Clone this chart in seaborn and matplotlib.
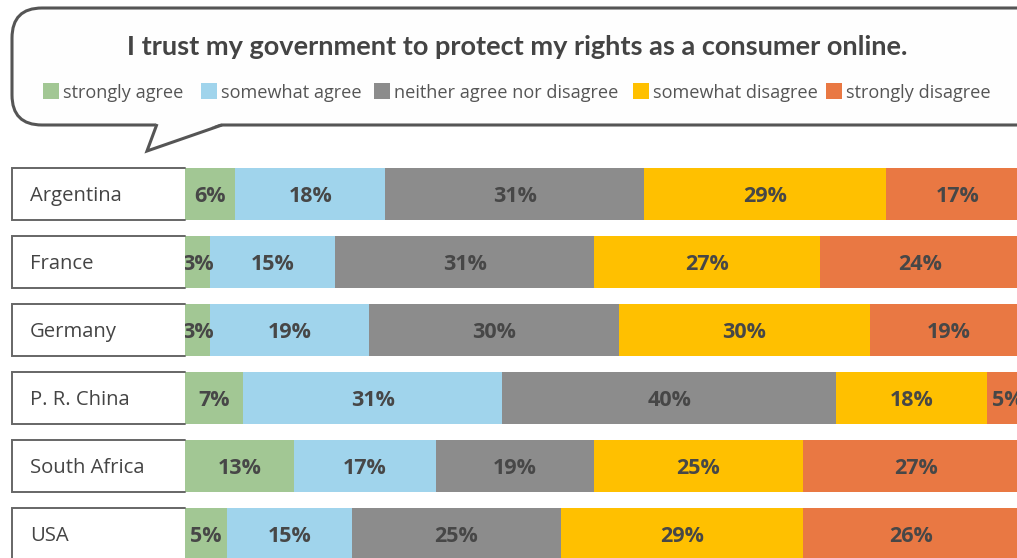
import matplotlib
matplotlib.use("Agg")
import matplotlib.pyplot as plt
import matplotlib.transforms as mtransforms
from matplotlib.patches import FancyBboxPatch, Polygon, Rectangle
import seaborn as sns
import pandas as pd
import numpy as np

countries = ["Argentina", "France", "Germany", "P. R. China", "South Africa", "USA"]
strongly_agree = [6, 3, 3, 7, 13, 5]
somewhat_agree = [18, 15, 19, 31, 17, 15]
neither = [31, 31, 30, 40, 19, 25]
somewhat_disagree = [29, 27, 30, 18, 25, 29]
strongly_disagree = [17, 24, 19, 5, 27, 26]

categories = ["strongly agree", "somewhat agree", "neither agree nor disagree",
              "somewhat disagree", "strongly disagree"]
colors = ["#A2C794", "#A0D4EC", "#8C8C8C", "#FFC000", "#E97843"]
title = "I trust my government to protect my rights as a consumer online."

sns.set_theme(style="white")
plt.rcParams['font.family'] = ['Open Sans', 'DejaVu Sans']

W, H = 1017, 558
fig = plt.figure(figsize=(W / 100, H / 100), dpi=100)
fig.patch.set_facecolor("white")

# overlay axes in pixel coords for the speech bubble and legend
ax0 = fig.add_axes([0, 0, 1, 1], zorder=0)
ax0.set_xlim(0, W)
ax0.set_ylim(H, 0)
ax0.axis("off")

edge = "#555555"
bubble = FancyBboxPatch((12 + 30, 8 + 30), 1005 - 60 + 30, 117 - 60,
                        boxstyle="round,pad=30", facecolor="#FEFEFE",
                        edgecolor=edge, linewidth=2.2, zorder=1)
ax0.add_patch(bubble)
ax0.add_patch(Polygon([(156, 123), (147, 151), (222, 123)], closed=True,
                      facecolor="#FEFEFE", edgecolor="none", zorder=2))
ax0.plot([157, 147, 222], [124, 151, 125], color=edge, lw=2.2, zorder=3,
         solid_joinstyle="miter", solid_capstyle="butt")

ax0.text(517, 47, title, ha="center", va="center", fontsize=19.5,
         fontweight="bold", color="#444444", zorder=4,
         family=["Lato", "DejaVu Sans"])

leg_sq_x = [43, 201, 374, 633, 826]
for x, lab, c in zip(leg_sq_x, categories, colors):
    ax0.add_patch(Rectangle((x, 83), 16, 16, facecolor=c, edgecolor="none", zorder=4))
    ax0.text(x + 20, 93, lab, ha="left", va="center", fontsize=13.1,
             color="#555555", zorder=4)

# bar axes
x0, x1 = 185, 1017
ytop, ybot = 160, 558
ax = fig.add_axes([x0 / W, 1 - ybot / H, (x1 - x0) / W, (ybot - ytop) / H], zorder=2)

df = pd.DataFrame({"country": countries})
series = [strongly_agree, somewhat_agree, neither, somewhat_disagree, strongly_disagree]
cum = np.cumsum(np.array(series), axis=0)
for i in range(len(series)):
    df[f"cum{i}"] = cum[i]

bar_w = 52 / 68
for i in reversed(range(len(series))):
    sns.barplot(data=df, y="country", x=f"cum{i}", color=colors[i], orient="h",
                width=bar_w, saturation=1, linewidth=0, ax=ax, order=countries)

ax.set_xlim(0, 832 / 8.35)
ax.set_ylim(5.353, -0.5)
ax.axis("off")

# segment labels
for i, vals in enumerate(series):
    for r, v in enumerate(vals):
        xc = cum[i][r] - v / 2
        ax.text(xc, r + 0.035, f"{v}%", ha="center", va="center", fontsize=15.5,
                fontweight="bold", color="#474747", zorder=5, clip_on=True)

# country label boxes
trans = mtransforms.blended_transform_factory(ax.transAxes, ax.transData)
bx0 = (12 - x0) / (x1 - x0)
for r, name in enumerate(countries):
    yb, yt = r - bar_w / 2, r + bar_w / 2
    ax.add_patch(Rectangle((bx0, yb), -bx0, bar_w, transform=trans,
                           facecolor="white", edgecolor="none", clip_on=False, zorder=3))
    ax.plot([0, bx0, bx0, 0], [yb, yb, yt, yt], transform=trans, color="#666666",
            lw=1.4, clip_on=False, zorder=4, solid_joinstyle="miter")
    ax.text((30 - x0) / (x1 - x0), r + 0.035, name, transform=trans, ha="left",
            va="center", fontsize=14.6, color="#444444", clip_on=False, zorder=5)

fig.savefig("out.png", dpi=100, facecolor="white")
